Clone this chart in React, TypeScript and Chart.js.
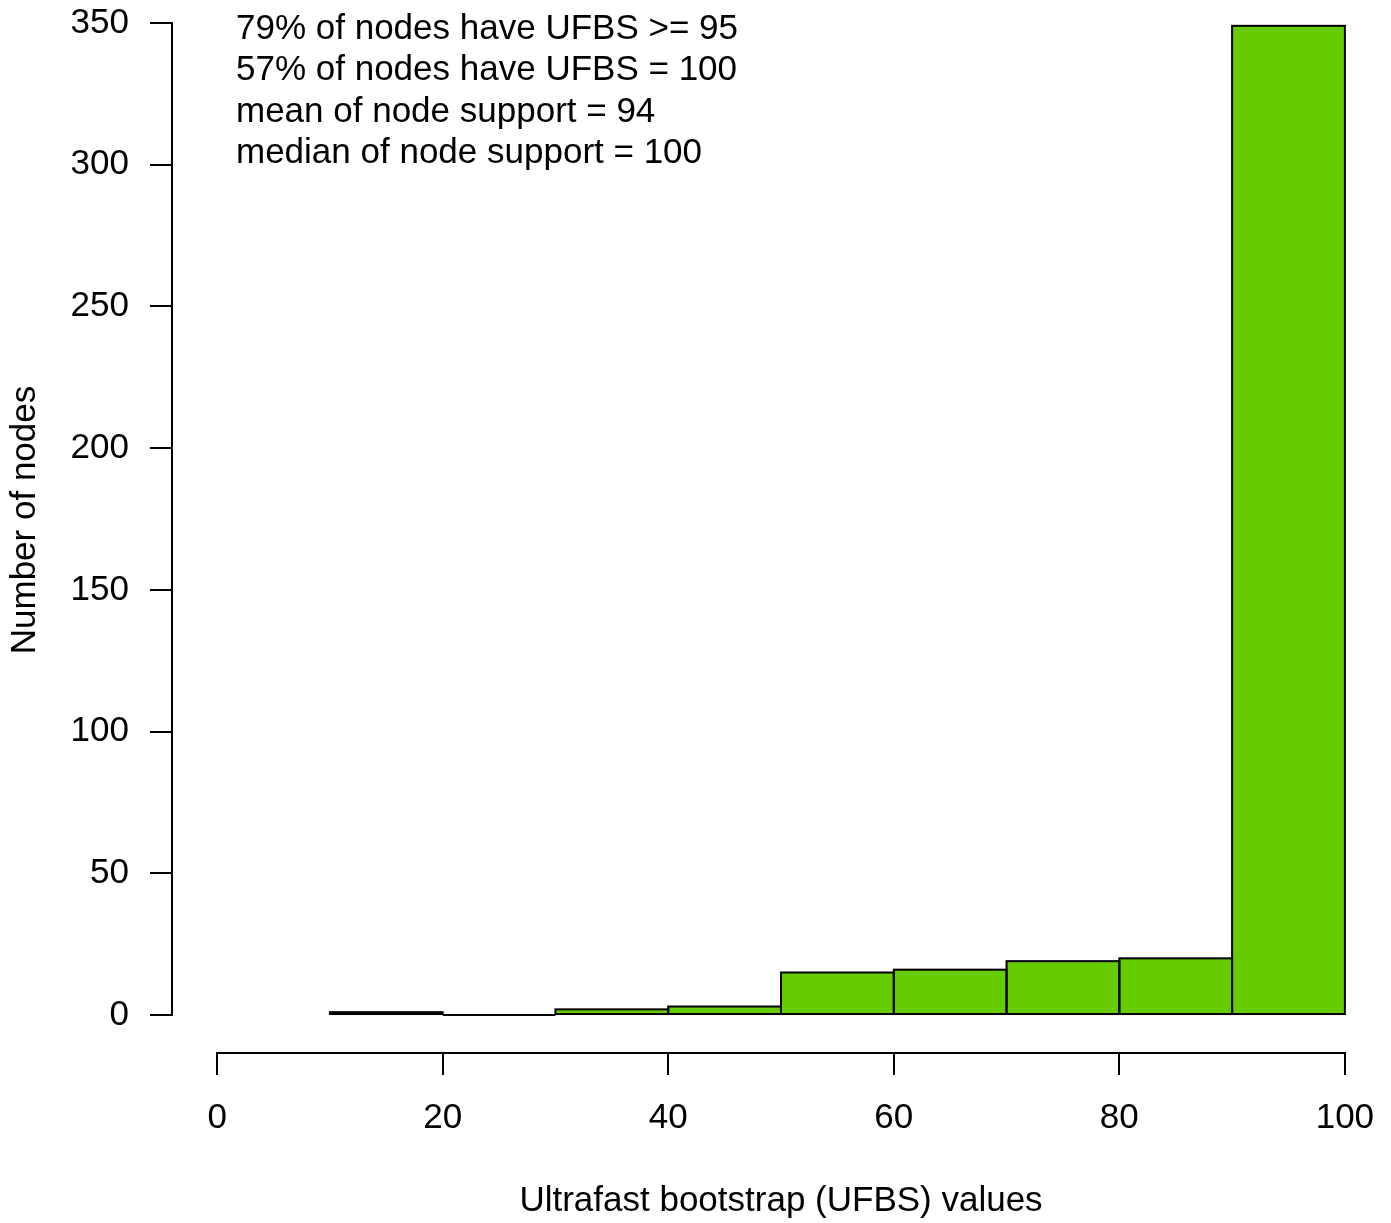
import React, { useEffect, useRef } from "react";
import { Chart, registerables } from "chart.js";

Chart.register(...registerables);

const binCenters = [15, 25, 35, 45, 55, 65, 75, 85, 95];
const counts = [1, 0, 2, 3, 15, 16, 19, 20, 349];
const xTicks = [0, 20, 40, 60, 80, 100];
const yTicks = [0, 50, 100, 150, 200, 250, 300, 350];
const notes = [
  "79% of nodes have UFBS >= 95",
  "57% of nodes have UFBS = 100",
  "mean of node support = 94",
  "median of node support = 100",
];
const xTitle = "Ultrafast bootstrap (UFBS) values";
const yTitle = "Number of nodes";

const FONT = "'Liberation Sans', Arial, Helvetica, sans-serif";
const FS = 35;
const W = 1391;
const H = 1223;

const rStylePlugin = {
  id: "rStyle",
  afterDatasetsDraw(chart: any) {
    const ctx = chart.ctx;
    const meta = chart.getDatasetMeta(0);
    ctx.save();
    ctx.strokeStyle = "#000";
    ctx.lineWidth = 2;
    meta.data.forEach((el: any) => {
      const { x, y, base, width } = el.getProps(["x", "y", "base", "width"], true);
      ctx.strokeRect(x - width / 2, y, width, base - y);
    });
    ctx.restore();
  },
  afterDraw(chart: any) {
    const ctx = chart.ctx;
    const xs = chart.scales.x;
    const ys = chart.scales.y;
    const area = chart.chartArea;
    ctx.save();
    ctx.strokeStyle = "#000";
    ctx.lineWidth = 2;
    ctx.lineCap = "square";
    ctx.beginPath();
    ctx.moveTo(area.left, ys.getPixelForValue(yTicks[0]));
    ctx.lineTo(area.left, ys.getPixelForValue(yTicks[yTicks.length - 1]));
    ctx.stroke();
    ctx.beginPath();
    ctx.moveTo(xs.getPixelForValue(xTicks[0]), area.bottom);
    ctx.lineTo(xs.getPixelForValue(xTicks[xTicks.length - 1]), area.bottom);
    ctx.stroke();

    ctx.fillStyle = "#000";
    ctx.font = `${FS}px ${FONT}`;
    ctx.textAlign = "left";
    ctx.textBaseline = "middle";
    notes.forEach((t, i) => {
      ctx.fillText(t, 236, 29 + i * 41.6);
    });

    ctx.translate(25, 520);
    ctx.rotate(-Math.PI / 2);
    ctx.textAlign = "center";
    ctx.textBaseline = "middle";
    ctx.fillText(yTitle, 0, 0);
    ctx.restore();
  },
};

export default function App() {
  const ref = useRef<HTMLCanvasElement | null>(null);

  useEffect(() => {
    if (!ref.current) return;
    const chart = new Chart(ref.current, {
      type: "bar",
      data: {
        datasets: [
          {
            data: binCenters.map((x, i) => ({ x, y: counts[i] })),
            backgroundColor: "#66CC00",
            borderWidth: 0,
            barPercentage: 1,
            categoryPercentage: 1,
          } as any,
        ],
      },
      options: {
        animation: false,
        responsive: false,
        devicePixelRatio: 1,
        layout: { padding: { left: 0, right: 1, top: 23, bottom: 0 } },
        plugins: {
          legend: { display: false },
          tooltip: { enabled: false },
          title: { display: false },
        },
        scales: {
          x: {
            type: "linear",
            offset: false,
            min: -4,
            max: 104,
            afterBuildTicks: (s: any) => {
              s.ticks = xTicks.map((v) => ({ value: v }));
            },
            afterFit: (s: any) => {
              s.height = H - 1053;
              s.paddingLeft = 0;
              s.paddingRight = 0;
            },
            grid: {
              display: true,
              offset: false,
              drawOnChartArea: false,
              drawTicks: true,
              tickLength: 22,
              color: "#000",
              tickColor: "#000",
              lineWidth: 2,
            },
            border: { display: false },
            ticks: {
              color: "#000",
              font: { family: FONT, size: FS },
              padding: 22,
              maxRotation: 0,
              autoSkip: false,
            },
            title: {
              display: true,
              text: xTitle,
              color: "#000",
              font: { family: FONT, size: FS },
              padding: { top: 4, bottom: 1 },
            },
          },
          y: {
            type: "linear",
            min: -13.4,
            max: 350,
            afterBuildTicks: (s: any) => {
              s.ticks = yTicks.map((v) => ({ value: v }));
            },
            afterFit: (s: any) => {
              s.width = 172;
              s.paddingTop = 0;
              s.paddingBottom = 0;
            },
            grid: {
              display: true,
              drawOnChartArea: false,
              drawTicks: true,
              tickLength: 22,
              color: "#000",
              tickColor: "#000",
              lineWidth: 2,
            },
            border: { display: false },
            ticks: {
              color: "#000",
              font: { family: FONT, size: FS },
              padding: 21,
              autoSkip: false,
            },
          },
        },
      } as any,
      plugins: [rStylePlugin],
    });
    return () => chart.destroy();
  }, []);

  return (
    <div style={{ position: "absolute", left: 0, top: 0, width: W, height: H, background: "#fff" }}>
      <canvas ref={ref} width={W} height={H} style={{ display: "block" }} />
    </div>
  );
}
